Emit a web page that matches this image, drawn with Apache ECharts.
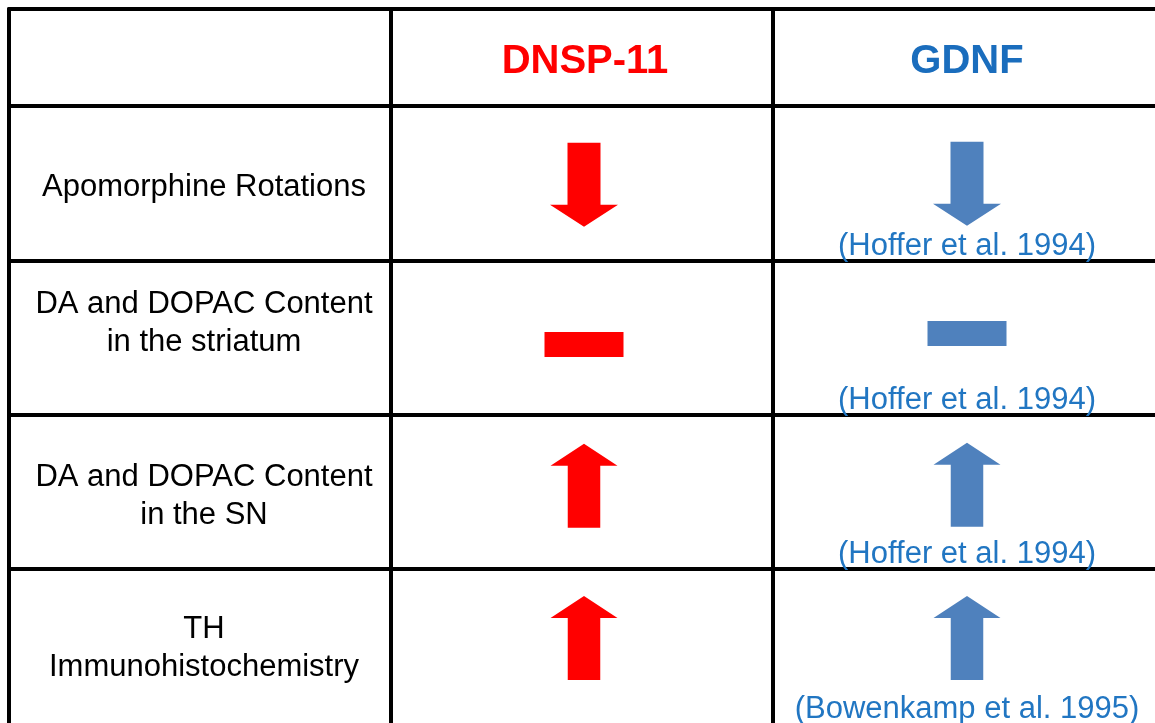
<!DOCTYPE html>
<html>
<head>
<meta charset="utf-8">
<script src="https://cdn.jsdelivr.net/npm/echarts@6/dist/echarts.min.js"></script>
<style>html,body{margin:0;padding:0;background:#fff;}#c{width:1155px;height:723px;}</style>
</head>
<body>
<div id="c"></div>
<script>
// ---- data ----
const columns = ['DNSP-11', 'GDNF'];
const rowLabels = [
  'Apomorphine Rotations',
  'DA and DOPAC Content\nin the striatum',
  'DA and DOPAC Content\nin the SN',
  'TH\nImmunohistochemistry'
];
const dnspEffect = ['down', 'flat', 'up', 'up'];
const gdnfEffect = ['down', 'flat', 'up', 'up'];
const gdnfCitations = [
  '(Hoffer et al. 1994)',
  '(Hoffer et al. 1994)',
  '(Hoffer et al. 1994)',
  '(Bowenkamp et al. 1995)'
];

// ---- styling ----
const RED = '#ff0000', BLUE_ARROW = '#4f81bd', BLUE_TEXT = '#1a6dbd', BLUE_CITE = '#2176c2';
const FONT = '"Liberation Sans", Arial, sans-serif';
const symbols = {
  down: 'path://M17.5 0 L50.5 0 L50.5 62 L68 62 L34 84 L0 62 L17.5 62 Z',
  up: 'path://M34 0 L68 22 L50.5 22 L50.5 84 L17.5 84 L17.5 22 L0 22 Z',
  flat: 'path://M0 0 L79 0 L79 25 L0 25 Z'
};
const sizes = { down: [68, 84], up: [67, 84], flat: [79, 25] };
const dnspNudge = [1.5, 7, -6, -8];
const gdnfNudge = [0.5, -4, -7, -8];
const labelNudge = [[4, 4], [4, -14], [4, 5], [4, 3]];

const lineStyle = { color: '#000', width: 4 };
function axisX(gridIndex) {
  return {
    type: 'value', gridIndex, min: 0, max: 3, interval: 1, position: 'top',
    axisLine: { show: true, lineStyle }, axisTick: { show: false }, axisLabel: { show: false },
    splitLine: { show: true, showMaxLine: false, lineStyle }
  };
}
function axisY(gridIndex, max, showMax) {
  return {
    type: 'value', gridIndex, min: 0, max, interval: 1, inverse: true,
    axisLine: { show: true, lineStyle }, axisTick: { show: false }, axisLabel: { show: false },
    splitLine: { show: true, showMaxLine: showMax, lineStyle }
  };
}

function markSeries(effects, col, color, nudge) {
  return {
    type: 'scatter', xAxisIndex: 1, yAxisIndex: 1, silent: true, z: 3,
    itemStyle: { opacity: 1 },
    data: effects.map((e, i) => ({
      value: [col + 0.5, i + 0.5],
      symbol: symbols[e], symbolSize: sizes[e],
      symbolOffset: [col === 1 ? 2 : 3, nudge[i]],
      itemStyle: { color, opacity: 1 }
    }))
  };
}

const textBase = { show: true, position: 'inside', fontFamily: FONT };
const hiddenItem = { color: 'rgba(0,0,0,0)', opacity: 1 };

const option = {
  animation: false,
  backgroundColor: '#fff',
  grid: [
    { left: 9, top: 9, width: 1149, height: 97 },
    { left: 9, top: 106, width: 1149, height: 620 }
  ],
  xAxis: [axisX(0), axisX(1)],
  yAxis: [axisY(0, 1, true), axisY(1, 4, false)],
  series: [
    // header titles
    {
      type: 'scatter', xAxisIndex: 0, yAxisIndex: 0, silent: true, symbolSize: 1,
      itemStyle: hiddenItem,
      data: columns.map((c, i) => ({
        value: [i + 1.5, 0.5], name: c,
        label: Object.assign({}, textBase, {
          formatter: c, fontSize: 40, fontWeight: 'bold',
          color: i === 0 ? RED : BLUE_TEXT, offset: [3, 4]
        })
      }))
    },
    // row labels
    {
      type: 'scatter', xAxisIndex: 1, yAxisIndex: 1, silent: true, symbolSize: 1,
      itemStyle: hiddenItem,
      data: rowLabels.map((r, i) => ({
        value: [0.5, i + 0.5],
        label: Object.assign({}, textBase, {
          formatter: r, fontSize: 31, color: '#000', lineHeight: 38, align: 'center',
          offset: labelNudge[i]
        })
      }))
    },
    markSeries(dnspEffect, 1, RED, dnspNudge),
    markSeries(gdnfEffect, 2, BLUE_ARROW, gdnfNudge),
    // citations
    {
      type: 'scatter', xAxisIndex: 1, yAxisIndex: 1, silent: true, symbolSize: 1,
      itemStyle: hiddenItem,
      data: gdnfCitations.map((t, i) => ({
        value: [2.5, i + 1],
        label: Object.assign({}, textBase, {
          formatter: t, fontSize: 31, color: BLUE_CITE, offset: [3, -14]
        })
      }))
    }
  ]
};

const chart = echarts.init(document.getElementById('c'), null, { renderer: 'canvas' });
chart.setOption(option);
</script>
</body>
</html>
